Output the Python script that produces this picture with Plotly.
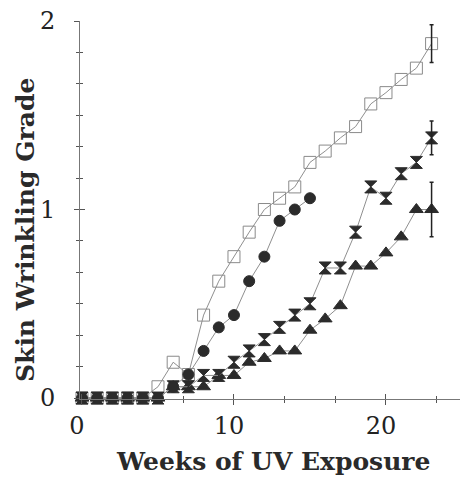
import plotly.graph_objects as go

weeks_sq = list(range(0, 24))
sq_vals = [0, 0, 0, 0, 0, 0.06, 0.19, 0.125, 0.44, 0.62, 0.75, 0.88, 1.0, 1.06, 1.12,
           1.25, 1.31, 1.38, 1.44, 1.56, 1.62, 1.69, 1.75, 1.88]
weeks_ci = list(range(0, 16))
ci_vals = [0, 0, 0, 0, 0, 0, 0.06, 0.125, 0.25, 0.375, 0.44, 0.62, 0.75, 0.94, 1.0, 1.06]
weeks_hg = list(range(0, 24))
hg_vals = [0, 0, 0, 0, 0, 0, 0.06, 0.06, 0.12, 0.12, 0.19, 0.25, 0.31, 0.375, 0.44,
           0.5, 0.69, 0.69, 0.88, 1.12, 1.06, 1.19, 1.25, 1.38]
weeks_tr = list(range(0, 24))
tr_vals = [0, 0, 0, 0, 0, 0, 0.06, 0.06, 0.06, 0.12, 0.12, 0.19, 0.21, 0.25, 0.25,
           0.36, 0.42, 0.49, 0.70, 0.70, 0.77, 0.855, 1.0, 1.0]
# error bars at final week
err_sq = 0.10
err_hg = 0.09
err_tr = 0.145

x_ticks = [0, 10, 20]
y_ticks = [0, 1, 2]

LINE = "#8f8f8f"
DARK = "#2b2b2b"
FONT = "DejaVu Serif"

fig = go.Figure()

def series(x, y, symbol, size, color, lcolor, lw=1):
    fig.add_trace(go.Scatter(
        x=x, y=y, mode="lines+markers",
        line=dict(color=LINE, width=1),
        marker=dict(symbol=symbol, size=size, color=color,
                    line=dict(color=lcolor, width=lw)),
        showlegend=False, cliponaxis=False))

def errpt(x, y, e):
    fig.add_trace(go.Scatter(
        x=[x[-1]], y=[y[-1]], mode="markers",
        marker=dict(size=1, color="rgba(0,0,0,0)"),
        error_y=dict(type="data", array=[e], color="#222", thickness=1.5, width=2),
        showlegend=False, cliponaxis=False))

series(weeks_sq, sq_vals, "square-open", 12, "#8a8a8a", "#8a8a8a", 1)
series(weeks_tr, tr_vals, "triangle-up", 12, DARK, DARK)
series(weeks_hg, hg_vals, "hourglass", 12, DARK, DARK)
series(weeks_ci, ci_vals, "circle", 11, DARK, DARK)
errpt(weeks_sq, sq_vals, err_sq)
errpt(weeks_hg, hg_vals, err_hg)
errpt(weeks_tr, tr_vals, err_tr)

xr = [-0.13, 24.87]
yr = [-0.005, 2.0]
common = dict(showgrid=False, zeroline=False)
fig.update_layout(
    width=460, height=478,
    margin=dict(l=80, r=0, t=21, b=79),
    paper_bgcolor="white", plot_bgcolor="white",
    font=dict(family=FONT, color="#222"),
    xaxis=dict(range=xr, tickvals=x_ticks, ticks="outside", ticklen=5, tickwidth=1,
               tickcolor="#555", showline=True, linecolor="#777", linewidth=1,
               tickfont=dict(size=24, family=FONT, color="#222"), ticklabelshift=-5,
               minor=dict(dtick=10/3, tick0=0, ticks="outside", ticklen=3, tickcolor="#555"),
               **common),
    yaxis=dict(range=yr, tickvals=y_ticks, ticks="outside", ticklen=5, tickwidth=1,
               tickcolor="#555", showline=True, linecolor="#777", linewidth=1,
               tickfont=dict(size=24, family=FONT, color="#222"), ticklabelstandoff=14,
               minor=dict(dtick=1/6, tick0=0, ticks="outside", ticklen=3, tickcolor="#555"),
               **common),
    xaxis2=dict(range=xr, overlaying="x", tickvals=x_ticks, ticks="inside", ticklen=5,
                tickcolor="#555", showticklabels=False, showline=False,
                minor=dict(dtick=10/3, tick0=0, ticks="inside", ticklen=3, tickcolor="#555"),
                **common),
    yaxis2=dict(range=yr, overlaying="y", tickvals=y_ticks, ticks="inside", ticklen=5,
                tickcolor="#555", showticklabels=False, showline=False,
                minor=dict(dtick=1/6, tick0=0, ticks="inside", ticklen=3, tickcolor="#555"),
                **common),
    annotations=[
        dict(text="<b>Weeks of UV Exposure</b>", xref="paper", yref="paper",
             x=0.508, y=(399 - 461) / 378, xanchor="center", yanchor="middle", showarrow=False,
             font=dict(size=25, family=FONT, color="#2a2a2a")),
        dict(text="<b>Skin Wrinkling Grade</b>", xref="paper", yref="paper",
             x=(25 - 80) / 380, y=(399 - 230) / 378, xanchor="center", yanchor="middle",
             showarrow=False, textangle=-90,
             font=dict(size=25, family=FONT, color="#2a2a2a")),
    ],
)
# dummy trace to make overlay axes render
fig.add_trace(go.Scatter(x=[None], y=[None], xaxis="x2", yaxis="y2", showlegend=False))

fig.write_html("out.html")
